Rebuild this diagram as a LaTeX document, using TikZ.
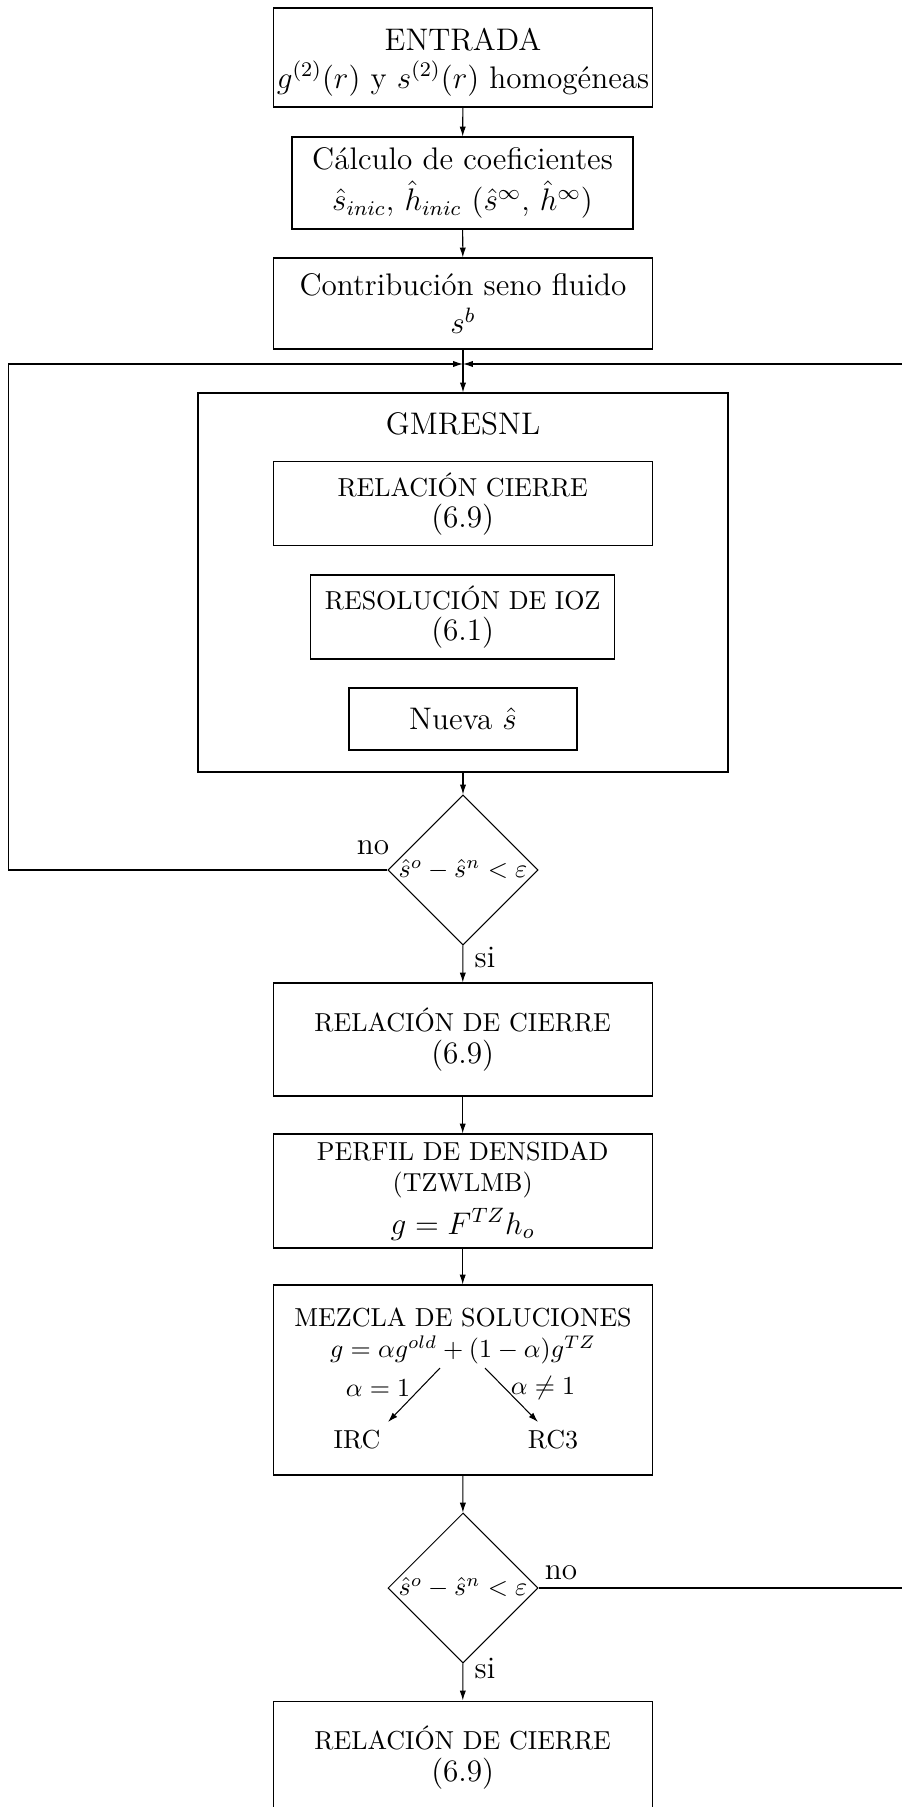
\documentclass[tikz,border=0pt]{standalone}
\usepackage{fontspec}
\usetikzlibrary{shapes.geometric,arrows.meta}
\newcommand{\nf}{\fontsize{12}{14.5}\selectfont}
\newcommand{\cf}{\fontsize{10}{12}\selectfont}
\def\P{0.3846pt}
\begin{document}
\begin{tikzpicture}[x=0.3846pt,y=-0.3846pt,
  >={Latex[length=3.8pt,width=2.4pt]},
  box/.style={draw,rectangle,inner sep=0pt,align=center,font=\nf},
  sbox/.style={draw,rectangle,inner sep=0pt,align=center,font=\cf},
  lab/.style={inner sep=0pt,font=\nf},
  sml/.style={inner sep=0pt,font=\cf},
  dec/.style={draw,diamond,aspect=1,inner sep=0pt,minimum width=150*\P,minimum height=150*\P,font=\cf}]
\useasboundingbox (0,0) rectangle (902,1807);

% top chain
\node[box,minimum width=379*\P,minimum height=99*\P] (entrada) at (463,57.5)
  {\rule{0pt}{12pt}ENTRADA\\ $g^{(2)}(r)$ y $s^{(2)}(r)$ homogéneas};
\node[box,minimum width=341*\P,minimum height=92*\P] (coef) at (462.5,183)
  {Cálculo de coeficientes\\[1.5pt] $\hat s_{inic}$, $\hat h_{inic}$ ($\hat s^\infty$, $\hat h^\infty$)};
\node[box,minimum width=379*\P,minimum height=91*\P] (contrib) at (463,303.5)
  {Contribución seno fluido\\ $s^b$};
\coordinate (j) at (463,364);

% GMRESNL block
\node[box,minimum width=530*\P,minimum height=379*\P] (gmres) at (463,582.5) {};
\node[lab] (gmlab) at (463,424) {GMRESNL};
\node[sbox,minimum width=379*\P,minimum height=83.5*\P] (rc1) at (462.7,503.7)
  {RELACIÓN CIERRE\\ {\nf (6.9)}};
\node[sbox,minimum width=303.5*\P,minimum height=84*\P] (ioz) at (462.7,617)
  {RESOLUCIÓN DE IOZ\\ {\nf (6.1)}};
\node[box,minimum width=228*\P,minimum height=62*\P] (nueva) at (463,719)
  {Nueva $\hat s$};

% first decision
\node[dec] (d1) at (463,870) {$\hat s^o-\hat s^n<\varepsilon$};
\coordinate (l1) at (8.6,870);
\coordinate (l2) at (8.6,364);
\coordinate (r1) at (906,364);

% lower chain
\node[sbox,minimum width=379*\P,minimum height=113*\P] (rc2) at (462.7,1039.5)
  {RELACIÓN DE CIERRE\\ {\nf (6.9)}};
\node[sbox,minimum width=379*\P,minimum height=114*\P] (perfil) at (462.7,1191)
  {PERFIL DE DENSIDAD\\ (TZWLMB)\\[3pt] {\nf $g=F^{TZ}h_o$}};
\node[box,minimum width=379*\P,minimum height=190*\P] (mezcla) at (462.7,1380) {};
\node[sml] (mtit) at (463,1317) {MEZCLA DE SOLUCIONES};
\node[sml] (mform) at (463,1350) {$g=\alpha g^{old}+(1-\alpha)g^{TZ}$};
\node[sml] (irc) at (357,1440) {IRC};
\node[sml] (rcc) at (553,1440) {RC3};
\coordinate (a1) at (440,1368);
\coordinate (b1) at (388,1422);
\coordinate (a2) at (485,1368);
\coordinate (b2) at (538,1422);
\node[sml] (al1) at (378,1388) {$\alpha=1$};
\node[sml] (al2) at (543,1388) {$\alpha\neq1$};

\node[dec] (d2) at (463,1588) {$\hat s^o-\hat s^n<\varepsilon$};
\coordinate (r2) at (906,1588);
\node[sbox,minimum width=379*\P,minimum height=113*\P] (rc3) at (462.7,1757.5)
  {RELACIÓN DE CIERRE\\ {\nf (6.9)}};

% labels
\node[lab] (no1) at (373,848) {no};
\node[lab] (si1) at (485,957) {si};
\node[lab] (no2) at (561,1573) {no};
\node[lab] (si2) at (485,1668) {si};

% connectors
\draw[->] (entrada) -- (coef);
\draw[->] (coef) -- (contrib);
\draw[->] (contrib) -- (gmres);
\draw[->] (d1.west) -- (l1) -- (l2) -- (j);
\draw[->] (r1) -- (j);
\draw[->] (gmres) -- (d1);
\draw[->] (d1) -- (rc2);
\draw[->] (rc2) -- (perfil);
\draw[->] (perfil) -- (mezcla);
\draw[->] (mezcla) -- (d2);
\draw[->] (d2) -- (rc3);
\draw (d2.east) -- (r2);
\draw[->] (a1) -- (b1);
\draw[->] (a2) -- (b2);
\end{tikzpicture}
\end{document}
